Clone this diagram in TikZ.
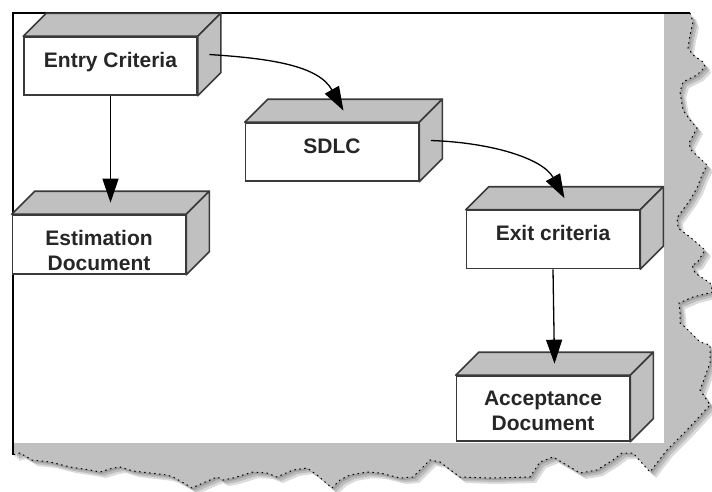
\documentclass[tikz,border=0pt]{standalone}
\usepackage{fontspec}
\setmainfont{Liberation Sans}
\usetikzlibrary{arrows.meta, calc}
\definecolor{cface}{HTML}{C0C0C0}
\definecolor{cedge}{HTML}{3A3A3A}
\definecolor{ctext}{HTML}{262626}
\tikzset{
  every picture/.style={line width=1.2pt},
  cuboid/.style={draw=cedge, fill=white, line width=1.6pt, minimum width=173pt, inner ysep=0pt,
    text height=30pt, text depth=28pt, align=center, text=ctext,
    font=\fontsize{21}{24.5}\selectfont\bfseries},
  face/.style={draw=cedge, fill=cface, line width=1.6pt, line join=round},
  arrow/.style={-{Triangle[length=24pt, width=16pt]}, draw=black, line width=1.3pt},
  torn/.style={draw=black, line width=1pt, dash pattern=on 1.5pt off 3.5pt},
}
% torn edge of the sheet, right side then bottom
\def\tornlist{690/13, 693/22, 690/35, 688/48, 693/55, 703/62, 705/67,
  697/75, 683/82, 680/92, 683/110, 690/120, 697/128, 689/143, 691/150, 707/165, 702/175,
  697/188, 690/200, 677/218, 678/228, 690/237, 705/250, 697/263, 692/265, 695/273,
  710/283, 713/292, 693/297, 679/303, 680/313, 680/323, 685/327, 700/342, 710/345,
  710/363, 700/390, 710/405, 687/430, 667/450, 650/472, 633/453, 622/453, 613/460,
  597/470, 580/473, 570/467, 553/457, 540/462, 530/477, 490/478, 460/477, 440/462,
  430/460, 413/477, 400/478, 380/473, 367/472, 350/475, 340/480, 332/488, 325/482,
  317/475, 307/468, 293/470, 277/477, 267/473, 253/472, 233/478, 223/480, 217/477,
  203/483, 192/488, 182/482, 173/477, 167/475, 150/473, 133/471, 120/467, 113/468,
  100/472, 90/470, 70/467, 50/462, 32/460, 20/453, 13/455}

\begin{document}
\begin{tikzpicture}[x=1pt, y=-1pt]
  \useasboundingbox[fill=white] (0,0) rectangle (712,491);
  % sheet with shadow
  \foreach \s in {2,4,6}
    \fill[black, opacity=0.14, shift={(\s,\s)}] (13,13) \foreach \x/\y in \tornlist {-- (\x,\y)} -- cycle;
  \fill[cface] (13,13) \foreach \x/\y in \tornlist {-- (\x,\y)} -- cycle;
  \fill[white] (13,13) rectangle (664,443);
  \draw[torn] (690,13) \foreach \x/\y in \tornlist {-- (\x,\y)};
  \draw[black, line width=1.8pt] (13,455) -- (13,13) -- (690,13);
  % boxes
  \node[cuboid] (entry) at (110.5,66) {Entry Criteria};
  \node[cuboid] (sdlc) at (332,152) {SDLC};
  \node[cuboid, text height=55pt, text depth=4pt] (est) at (99,244.5) {Estimation\\Document};
  \node[cuboid] (exit) at (553,239.5) {Exit criteria};
  \node[cuboid, text height=54pt, text depth=11pt] (acc) at (543,408.5) {Acceptance\\Document};
  \foreach \n in {entry, sdlc, est, exit, acc} {
    \draw[face] (\n.north west) -- ++(23pt,23pt) -- ([shift={(23pt,23pt)}]\n.north east) -- (\n.north east) -- cycle;
    \draw[face] (\n.north east) -- ++(23pt,23pt) -- ([shift={(23pt,23pt)}]\n.south east) -- (\n.south east) -- cycle;
  }
  % flow
  \draw[arrow] (entry.south) -- ([shift={(11.5pt,11.5pt)}]est.north);
  \draw[arrow] ([shift={(11.5pt,11.5pt)}]entry.east) .. controls +(62,4) and +(-25,-45) .. ([shift={(11.5pt,11.5pt)}]sdlc.north);
  \draw[arrow] ([shift={(11.5pt,11.5pt)}]sdlc.east) .. controls +(60,2) and +(-22,-40) .. ([shift={(11.5pt,11.5pt)}]exit.north);
  \draw[arrow] (exit.south) -- ([shift={(11.5pt,11.5pt)}]acc.north);
\end{tikzpicture}
\end{document}
